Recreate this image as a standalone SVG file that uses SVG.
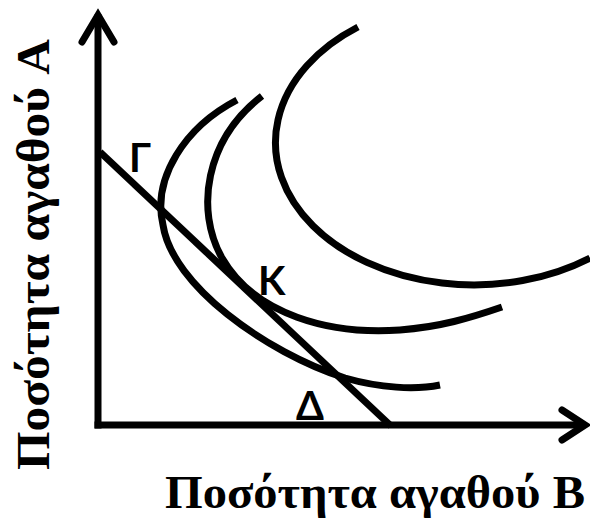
<svg xmlns="http://www.w3.org/2000/svg" width="590" height="520" viewBox="0 0 590 520">
<style>
.ax{fill:none;stroke:#000;stroke-width:7;stroke-linecap:square}
.ah{fill:none;stroke:#000;stroke-width:7;stroke-linecap:round;stroke-linejoin:miter;stroke-miterlimit:10}
.cv{fill:none;stroke:#000;stroke-width:7;stroke-linecap:butt}
.pt{font-family:Lato,"Open Sans","Liberation Sans",sans-serif;font-weight:bold;font-size:40px;fill:#000}
.lb{font-family:"Liberation Serif","DejaVu Serif",serif;font-weight:bold;fill:#000}
</style>
<rect width="590" height="520" fill="#fff"/>
<g id="axes">
<line class="ax" x1="98" y1="425" x2="98" y2="18"/>
<line class="ax" x1="98" y1="425" x2="580" y2="425"/>
<polyline class="ah" points="82,42 98,15 114,42"/>
<polyline class="ah" points="562,410 585,425 562,440"/>
</g>
<g id="curves">
<path id="curve1" class="cv" d="M237,100 C185,127 152,178 163,225 C172,285 265,352 345,378 C380,388 415,390 440,385"/>
<path id="curve2" class="cv" d="M262,96 C205,140 195,210 222,258 C255,315 330,335 400,330 C440,327 470,318 502,307"/>
<path id="curve3" class="cv" d="M358,27 A198,142 0 1 0 590,258"/>
</g>
<g id="budget-line">
<line class="cv" x1="100" y1="152" x2="391" y2="426"/>
</g>
<g id="point-labels">
<text class="pt" x="129" y="172">Γ</text>
<text class="pt" x="258" y="295">K</text>
<text class="pt" x="296" y="420">Δ</text>
</g>
<g id="axis-labels">
<text class="lb" x="165" y="508" font-size="46" textLength="420" lengthAdjust="spacingAndGlyphs">Ποσότητα αγαθού B</text>
<text class="lb" font-size="46" transform="translate(49,470) rotate(-90)" textLength="431" lengthAdjust="spacingAndGlyphs">Ποσότητα αγαθού A</text>
</g>
</svg>
